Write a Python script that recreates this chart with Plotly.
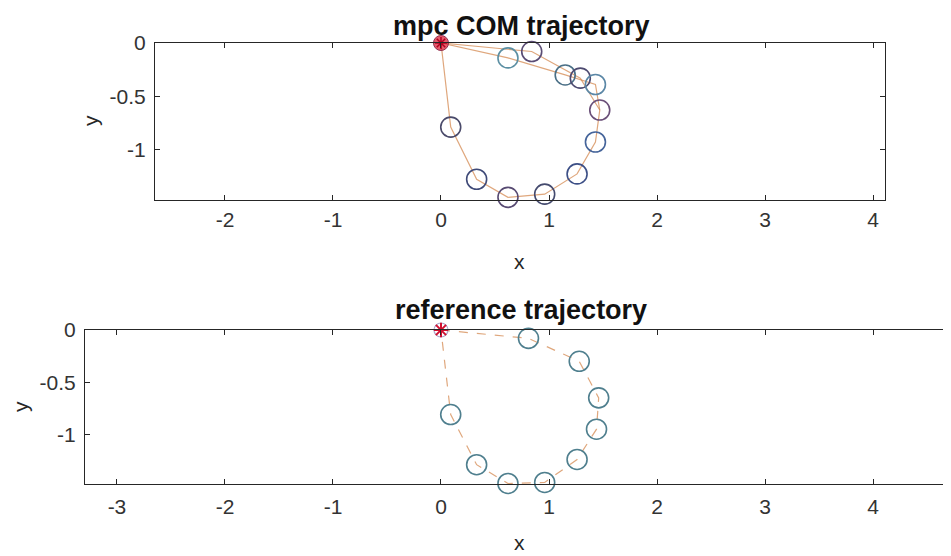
import plotly.graph_objects as go

# page offset (body margin) compensation
OFF = 8
W, H = 951 - OFF, 556 - OFF

# ---------------- data ----------------
# mpc COM trajectory (main loop)
mpc_x = [0.0, 0.84, 1.29, 1.47, 1.43, 1.26, 0.96, 0.62, 0.33, 0.09, 0.0]
mpc_y = [0.0, -0.08, -0.33, -0.63, -0.93, -1.23, -1.42, -1.45, -1.28, -0.79, 0.0]
# mpc predicted branch near the start
branch_x = [0.0, 0.62, 1.15, 1.43, 1.47]
branch_y = [0.0, -0.14, -0.30, -0.39, -0.63]
# circle markers (top)
mpc_circle_x = [0.62, 0.84, 1.15, 1.29, 1.43, 1.47, 1.43, 1.26, 0.96, 0.62, 0.33, 0.09]
mpc_circle_y = [-0.14, -0.08, -0.30, -0.33, -0.39, -0.63, -0.93, -1.23, -1.42, -1.45, -1.28, -0.79]
mpc_circle_c = ["#5b8fa3", "#5a4c74", "#4a6f86", "#4d4a70", "#5b87a6", "#6a4f78",
                "#45649a", "#3c4f86", "#444a6e", "#574a72", "#3f4a78", "#4a4a6a"]

# reference trajectory
ref_x = [0.0, 0.81, 1.28, 1.46, 1.44, 1.26, 0.96, 0.62, 0.33, 0.09, 0.0]
ref_y = [0.0, -0.08, -0.30, -0.65, -0.95, -1.24, -1.46, -1.47, -1.29, -0.81, 0.0]
ref_circle_c = "#4f7f8e"

top_xrange = [-2.648, 4.111]
bot_xrange = [-3.296, 4.722]
yrange = [-1.475, 0.0]
x_ticks = [-3, -2, -1, 0, 1, 2, 3, 4]
y_ticks = [0, -0.5, -1]
y_ticklabels = ["0", "-0.5", "-1"]

LINE_C = "rgba(210,130,70,0.7)"
AX_C = "#262626"
FONT = "Liberation Sans, Arial, sans-serif"


def px(x):
    return (x - OFF) / W


def py(y):
    return 1 - (y - OFF) / H


fig = go.Figure()

# ---- top subplot ----
fig.add_trace(go.Scatter(x=mpc_x, y=mpc_y, mode="lines", xaxis="x", yaxis="y",
                         line=dict(color=LINE_C, width=1.2), cliponaxis=False, showlegend=False))
fig.add_trace(go.Scatter(x=branch_x, y=branch_y, mode="lines", xaxis="x", yaxis="y",
                         line=dict(color=LINE_C, width=1.2), cliponaxis=False, showlegend=False))
fig.add_trace(go.Scatter(x=mpc_circle_x, y=mpc_circle_y, mode="markers", xaxis="x", yaxis="y",
                         marker=dict(symbol="circle-open", size=20, color=mpc_circle_c,
                                     line=dict(width=1.6)),
                         cliponaxis=False, showlegend=False))
fig.add_trace(go.Scatter(x=[0], y=[0], mode="markers", xaxis="x", yaxis="y",
                         marker=dict(symbol="circle", size=15, color="rgba(225,50,70,0.8)",
                                     line=dict(color="#903050", width=1)),
                         cliponaxis=False, showlegend=False))
fig.add_trace(go.Scatter(x=[0], y=[0], mode="markers", xaxis="x", yaxis="y",
                         marker=dict(symbol="asterisk-open", size=10, color="#b00020",
                                     line=dict(width=1.5)),
                         cliponaxis=False, showlegend=False))

# ---- bottom subplot ----
fig.add_trace(go.Scatter(x=ref_x, y=ref_y, mode="lines", xaxis="x2", yaxis="y2",
                         line=dict(color=LINE_C, width=1.2, dash="dash"), cliponaxis=False,
                         showlegend=False))
fig.add_trace(go.Scatter(x=ref_x[1:-1], y=ref_y[1:-1], mode="markers", xaxis="x2", yaxis="y2",
                         marker=dict(symbol="circle-open", size=20, color=ref_circle_c,
                                     line=dict(width=1.6)),
                         cliponaxis=False, showlegend=False))
fig.add_trace(go.Scatter(x=[0], y=[0], mode="markers", xaxis="x2", yaxis="y2",
                         marker=dict(symbol="circle-open", size=14, color="rgba(120,110,170,0.6)",
                                     line=dict(width=1.2)),
                         cliponaxis=False, showlegend=False))
fig.add_trace(go.Scatter(x=[0], y=[0], mode="markers", xaxis="x2", yaxis="y2",
                         marker=dict(symbol="asterisk-open", size=12, color="#d01030",
                                     line=dict(width=2)),
                         cliponaxis=False, showlegend=False))


def xax(domain, rng, anchor, standoff):
    return dict(domain=domain, range=rng, anchor=anchor, tickvals=x_ticks,
                ticktext=[str(v) for v in x_ticks], ticks="inside", ticklen=5,
                tickcolor=AX_C, tickwidth=1, showline=True, linecolor=AX_C, linewidth=1,
                mirror="ticks", showgrid=False, zeroline=False, automargin=False,
                tickfont=dict(family=FONT, size=21, color="#333333"),
                ticklabelstandoff=standoff)


def yax(domain, anchor):
    return dict(domain=domain, range=yrange, anchor=anchor, tickvals=y_ticks,
                ticktext=y_ticklabels, ticks="inside", ticklen=5,
                tickcolor=AX_C, tickwidth=1, showline=True, linecolor=AX_C, linewidth=1,
                mirror="ticks", showgrid=False, zeroline=False, automargin=False,
                tickfont=dict(family=FONT, size=21, color="#333333"), ticklabelstandoff=4)


ann = []
def add_text(text, x, y, size, bold=False, angle=0):
    ann.append(dict(text=("<b>%s</b>" % text) if bold else text, x=px(x), y=py(y),
                    xref="paper", yref="paper", xanchor="center", yanchor="middle",
                    showarrow=False, textangle=angle,
                    font=dict(family=FONT, size=size, color="#111111" if bold else "#262626")))

add_text("mpc COM trajectory", 521, 26, 27, bold=True)
add_text("reference trajectory", 521, 310, 27, bold=True)
add_text("x", 519, 262, 21)
add_text("x", 519, 542, 21)
add_text("y", 90, 121, 21, angle=-90)
add_text("y", 20, 407, 21, angle=-90)

fig.update_layout(
    width=W, height=H,
    margin=dict(l=0, r=0, t=0, b=0, autoexpand=False),
    paper_bgcolor="white", plot_bgcolor="white",
    xaxis=xax([px(155), px(885)], top_xrange, "y", 1),
    yaxis=yax([py(200), py(43)], "x"),
    xaxis2=xax([px(85), 1.0], bot_xrange, "y2", 4),
    yaxis2=yax([py(484), py(330)], "x2"),
    annotations=ann,
    showlegend=False,
)

fig.write_html("out.html")
